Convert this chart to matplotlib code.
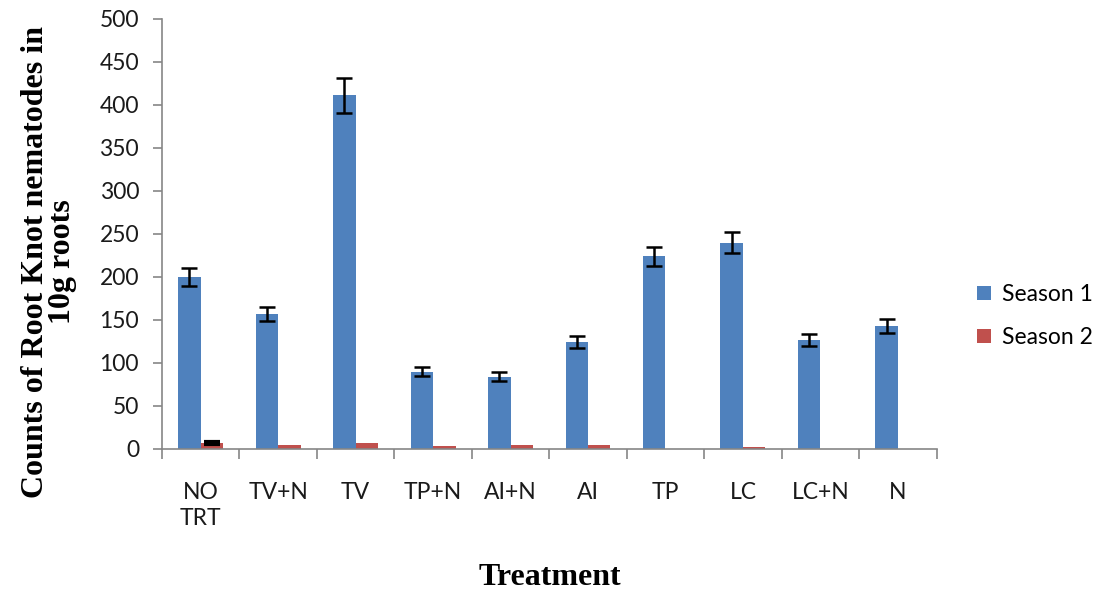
import numpy as np
import matplotlib
matplotlib.use("Agg")
import matplotlib.pyplot as plt
from matplotlib.ticker import FixedLocator

# data
treatments = ["NO\nTRT", "TV+N", "TV", "TP+N", "AI+N", "AI", "TP", "LC", "LC+N", "N"]
season1 = [200, 157, 411, 90, 84, 124, 224, 240, 127, 143]
season1_err = [10, 8, 20, 5, 5, 7, 11, 12, 7, 8]
season2 = [7, 5, 7, 3, 5, 5, 0, 2, 0, 0]
season2_err = [1.5, 0, 0, 0, 0, 0, 0, 0, 0, 0]

blue = "#4F81BD"
red = "#C0504D"
grey = "#868686"
txt = "#1a1a1a"

plt.rcParams["font.family"] = ["Lato", "DejaVu Sans"]

fig = plt.figure(figsize=(10.98, 5.90), dpi=100)
ax = fig.add_axes([0.1475, 0.239, 0.7055, 0.729])

x = np.arange(len(treatments))
w = 0.29

ax.bar(x - w / 2, season1, w, color=blue, label="Season 1", zorder=2)
ax.bar(x + w / 2, season2, w, color=red, label="Season 2", zorder=2)
ax.errorbar(x - w / 2, season1, yerr=season1_err, fmt="none", ecolor="black",
            elinewidth=1.8, capsize=6, capthick=1.8, zorder=3)
mask = np.array(season2_err) > 0
ax.errorbar((x + w / 2)[mask], np.array(season2)[mask], yerr=np.array(season2_err)[mask],
            fmt="none", ecolor="black", elinewidth=1.8, capsize=6, capthick=3, zorder=3)

ax.set_xlim(-0.5, len(treatments) - 0.5)
ax.set_ylim(0, 500)
ax.set_yticks(np.arange(0, 501, 50))

ax.set_xticks(x)
ax.set_xticklabels(treatments, fontsize=16.5, color=txt, linespacing=1.25)
ax.xaxis.set_minor_locator(FixedLocator(np.arange(-0.5, len(treatments), 1)))
ax.tick_params(axis="x", which="major", length=0, pad=24)
ax.tick_params(axis="x", which="minor", length=7, color=grey, width=1.2, direction="out")
ax.tick_params(axis="y", length=6.5, color=grey, width=1.2, direction="out",
               labelsize=16.5, labelcolor=txt, pad=10)

for s in ["top", "right"]:
    ax.spines[s].set_visible(False)
for s in ["left", "bottom"]:
    ax.spines[s].set_color(grey)
    ax.spines[s].set_linewidth(1.2)

fig.text(49 / 1098, 1 - 262 / 590, "Counts of Root Knot nematodes in\n10g roots",
         rotation=90, ha="center", va="center", multialignment="center",
         fontsize=23, fontweight="bold", family="Liberation Serif", linespacing=0.95)
fig.text(550 / 1098, 1 - 585 / 590, "Treatment", ha="center", va="baseline",
         fontsize=23, fontweight="bold", family="Liberation Serif")

ax.legend(loc="upper left", bbox_to_anchor=(968 / 1098, 1 - 275 / 590),
          bbox_transform=fig.transFigure, frameon=False,
          fontsize=16.5, handlelength=0.6, handleheight=0.6, labelspacing=0.95,
          handletextpad=0.5, borderaxespad=0)

fig.savefig("out.png", dpi=100)
